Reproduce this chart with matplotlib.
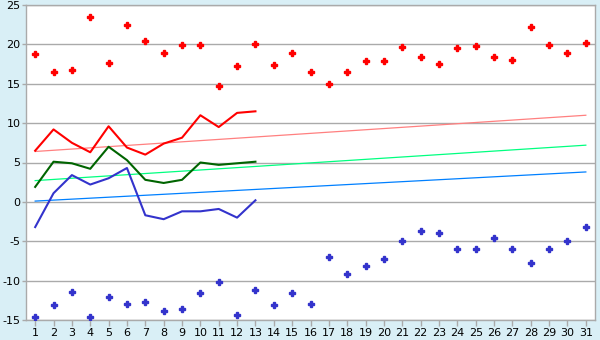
import matplotlib
matplotlib.use("Agg")
import matplotlib.pyplot as plt

plt.rcParams["axes.unicode_minus"] = False

days = list(range(1, 32))

max_pts = [18.8, 16.5, 16.8, 23.5, 17.6, 22.5, 20.4, 18.9, 19.9, 19.9,
           14.7, 17.3, 20.0, 17.4, 18.9, 16.5, 15.0, 16.5, 17.9, 17.9,
           19.7, 18.4, 17.5, 19.5, 19.8, 18.4, 18.0, 22.2, 19.9, 18.9, 20.2]
min_pts = [-14.6, -13.1, -11.5, -14.6, -12.1, -13.0, -12.7, -13.9, -13.6, -11.6,
           -10.2, -14.4, -11.2, -13.1, -11.6, -13.0, -7.0, -9.1, -8.1, -7.2,
           -5.0, -3.7, -4.0, -6.0, -6.0, -4.6, -6.0, -7.8, -6.0, -5.0, -3.2]

obs_days = list(range(1, 14))
max_line = [6.5, 9.2, 7.5, 6.3, 9.6, 6.9, 6.0, 7.4, 8.15, 11.0, 9.5, 11.3, 11.5]
mean_line = [1.9, 5.1, 4.9, 4.2, 7.0, 5.3, 2.8, 2.4, 2.8, 5.0, 4.7, 4.9, 5.1]
min_line = [-3.2, 1.1, 3.4, 2.2, 3.0, 4.3, -1.7, -2.2, -1.2, -1.2, -0.9, -2.0, 0.2]

trend_days = [1, 31]
trend_max = [6.4, 11.0]
trend_mean = [2.7, 7.2]
trend_min = [0.1, 3.8]

bg = "#d9eff6"
grid = "#aaaaaa"

fig = plt.figure(figsize=(6, 3.4), dpi=100, facecolor=bg)
ax = fig.add_axes([26 / 600, 20 / 340, 569 / 600, 315 / 340])
ax.set_facecolor("white")

ax.plot(trend_days, trend_max, color="#ff8080", lw=0.9, zorder=2)
ax.plot(trend_days, trend_mean, color="#00ff80", lw=0.9, zorder=2)
ax.plot(trend_days, trend_min, color="#0080ff", lw=0.9, zorder=2)

ax.plot(obs_days, max_line, color="#ff0000", lw=1.5, zorder=3)
ax.plot(obs_days, mean_line, color="#006400", lw=1.5, zorder=3)
ax.plot(obs_days, min_line, color="#3333cc", lw=1.5, zorder=3)

ax.plot(days, max_pts, ls="none", marker="P", ms=4.5, color="#ff0000",
        mec="#ff0000", zorder=4)
ax.plot(days, min_pts, ls="none", marker="P", ms=4.5, color="#3333cc",
        mec="#3333cc", zorder=4)

ax.set_xlim(0.5, 31.5)
ax.set_ylim(-15, 25)
ax.set_xticks(days)
ax.set_yticks(range(-15, 26, 5))
ax.yaxis.grid(True, color=grid, lw=1)
ax.set_axisbelow(True)

for s in ax.spines.values():
    s.set_color(grid)
    s.set_linewidth(1)

ax.tick_params(axis="both", colors=grid, labelcolor="black", labelsize=8,
               length=4, width=1)
ax.tick_params(axis="x", pad=2)
ax.tick_params(axis="y", pad=1, length=3)

fig.savefig("out.png", dpi=100, facecolor=bg)
